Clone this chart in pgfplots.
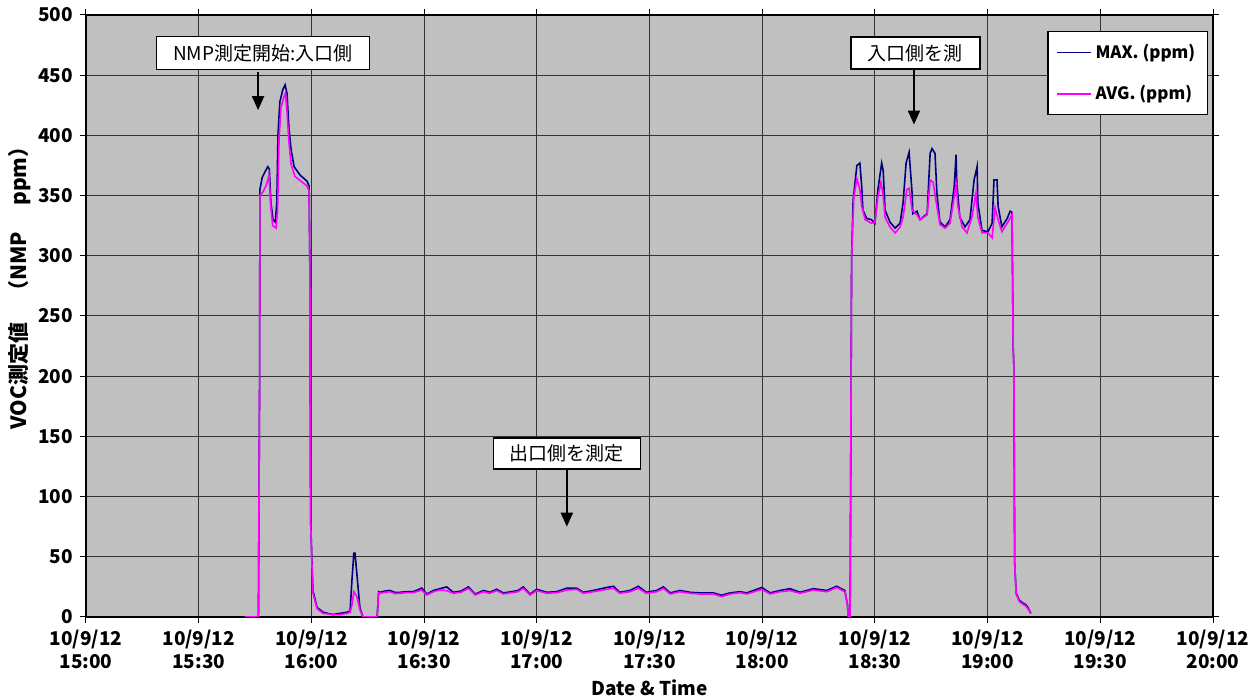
\documentclass[border=0pt]{standalone}
\usepackage{fontspec}
\setmainfont{Noto Sans CJK JP}
\usepackage{pgfplots}
\pgfplotsset{compat=1.18}
\usetikzlibrary{arrows.meta,calc}
\definecolor{plotgray}{RGB}{192,192,192}
\definecolor{maxblue}{RGB}{0,0,128}
\definecolor{avgpink}{RGB}{255,0,255}

% minutes after 15:00, ppm
\pgfplotstableread{
t v
42.3 0
45.9 0
46.2 190
46.3 355
46.9 365
47.7 370
48.4 374
48.8 372
49.2 345
49.8 330
50.4 328
50.8 345
51.1 400
51.6 428
52.4 438
53.0 442
53.5 435
54.0 407
54.6 388
55.4 374
57.0 367
58.8 362
59.4 358
59.6 286
59.8 80
60.1 50
60.4 22
61.5 8
63.1 4
65.7 2
67.6 3
69.5 4
70.3 5
70.8 31
71.3 53
71.6 53
72.1 36
72.9 8
73.7 0
77.5 0
77.9 21
78.3 20.5
79.5 21.5
80.9 22.0
82.2 20.5
83.6 20.5
85.3 21.0
87.1 21.0
89.4 24.0
90.7 19.0
92.5 22.0
94.2 23.5
96.0 25.0
97.8 20.5
99.8 21.5
101.8 25.0
103.6 19.0
105.8 22.0
107.5 20.5
109.3 23.0
111.1 20.0
113.3 21.0
115.0 22.0
116.4 25.0
118.2 19.0
120.0 23.0
122.6 20.5
125.3 21.0
128.0 24.0
130.6 24.0
132.4 20.5
135.0 22.0
138.6 24.5
140.4 25.5
142.1 20.5
144.8 22.0
147.0 25.5
149.2 20.5
151.9 22.0
153.7 25.0
155.5 20.0
158.1 22.0
160.8 20.5
163.4 20.0
167.0 20.0
169.2 18.0
171.4 20.0
174.1 21.0
175.9 20.0
179.9 24.5
182.1 20.0
184.7 22.0
187.4 23.5
190.1 20.5
193.6 23.5
197.2 22.0
199.8 25.5
202.0 22.0
202.7 10
202.9 0
203.4 0
203.6 150
203.8 299
204.2 346
205.2 375
206.0 377
206.5 357
206.8 338
207.8 331
209.1 330
210.0 327
210.8 355
211.8 377
212.2 371
212.7 338
214.0 328
215.4 323
216.7 327
217.5 344
218.3 377
219.1 386
219.9 352
220.1 335
221.2 337
222.0 330
223.9 335
224.7 385
225.2 389
226.0 385
226.5 352
227.3 328
228.7 324
230.0 330
231.1 357
231.6 384
231.8 360
232.6 332
234.0 324
235.3 330
236.4 363
237.2 374
237.4 344
238.5 321
240.1 320
241.2 327
241.7 363
242.5 363
242.8 341
243.8 324
245.2 331
246.0 337
246.5 336
246.8 224
247.0 208
247.2 45
247.6 20
248.4 14
249.2 12
250.2 10
250.7 8
251.5 3
}\maxdata

\pgfplotstableread{
t v
42.3 0
45.9 0
46.2 190
46.3 350
47.1 353
47.9 358
48.4 363
48.7 367
49.2 340
49.7 325
50.6 323
51.0 338
51.4 398
51.9 423
52.7 432
53.1 435
53.5 420
54.0 395
54.6 376
55.6 366
57.2 362
58.8 358
59.4 354
59.6 286
59.8 80
60.1 48
60.4 20
61.5 7
63.1 3
65.7 2
67.6 2
69.5 3
70.3 4
70.8 10
71.3 21
72.1 17
72.9 6
73.7 0
77.5 0
77.9 20
78.3 19.7
79.5 20.5
80.9 21.0
82.2 19.5
83.6 19.7
85.3 20.2
87.1 20.2
89.4 22.4
90.7 18.3
92.5 21.0
94.2 22.4
96.0 21.9
97.8 19.7
99.8 20.5
101.8 23.8
103.6 18.3
105.8 21.0
107.5 19.7
109.3 21.9
111.1 19.1
113.3 20.2
115.0 21.0
116.4 23.8
118.2 18.3
120.0 21.9
122.6 19.7
125.3 20.2
128.0 22.4
130.6 23.0
132.4 19.7
135.0 21.0
138.6 23.0
140.4 23.8
142.1 19.7
144.8 21.0
147.0 23.8
149.2 19.7
151.9 21.0
153.7 23.8
155.5 19.1
158.1 21.0
160.8 19.7
163.4 19.1
167.0 19.1
169.2 16.9
171.4 19.1
174.1 20.2
175.9 19.1
179.9 23.0
182.1 19.1
184.7 21.0
187.4 21.9
190.1 19.7
193.6 22.4
197.2 21.0
199.8 24.5
202.0 21.0
202.7 10
202.9 0
203.4 0
203.6 150
203.8 299
204.4 349
205.2 364
206.0 355
206.5 341
207.4 330
209.1 327
210.0 328
210.8 349
211.6 361
212.2 350
212.7 332
214.0 324
215.4 319
216.7 324
217.5 332
218.5 355
219.1 356
219.9 338
221.2 334
222.0 330
223.9 334
224.7 363
225.5 361
226.5 341
227.3 326
228.7 323
230.0 327
231.1 349
231.6 360
232.1 341
233.2 324
234.5 319
235.8 332
236.9 352
237.4 332
238.5 319
240.1 319
241.2 315
242.0 340
242.8 330
243.8 320
245.2 327
246.5 334
246.8 224
247.0 208
247.2 45
247.6 19
248.4 13
249.2 11
250.2 9
250.7 7
251.5 3
}\avgdata

\begin{document}
\begin{tikzpicture}
\begin{axis}[
  scale only axis,
  width=563.5pt, height=301pt,
  xmin=0, xmax=300, ymin=0, ymax=500,
  xtick={0,30,...,300},
  xticklabels={{10/9/12\\15:00},{10/9/12\\15:30},{10/9/12\\16:00},{10/9/12\\16:30},{10/9/12\\17:00},{10/9/12\\17:30},{10/9/12\\18:00},{10/9/12\\18:30},{10/9/12\\19:00},{10/9/12\\19:30},{10/9/12\\20:00}},
  ytick={0,50,...,500},
  /pgf/number format/assume math mode=true,
  grid=major,
  major grid style={black!80, line width=0.5pt},
  axis background/.style={fill=plotgray},
  axis line style={black, line width=0.6pt},
  tick align=outside,
  major tick length=3pt,
  tick style={black, line width=0.5pt},
  xticklabel style={align=center, font=\bfseries\fontsize{9.5}{11.5}\selectfont},
  yticklabel style={font=\bfseries\fontsize{9.5}{11.5}\selectfont},
  xlabel={Date \& Time},
  ylabel={VOC測定値　（NMP　 ppm）},
  xlabel style={font=\bfseries\fontsize{9.5}{11.5}\selectfont, at={(axis description cs:0.5,-0.118)}, anchor=center},
  ylabel style={font=\bfseries\fontsize{10.5}{12}\selectfont, at={(axis description cs:-0.0586,0.555)}, anchor=center},
  legend style={at={(0.853,0.973)}, anchor=north west, draw=black, fill=white,
    font=\bfseries\fontsize{8.5}{10.5}\selectfont, inner xsep=4pt, inner ysep=4pt, row sep=8pt,
    line width=0.6pt},
  legend cell align=left,
  legend image code/.code={\draw[#1, line width=0.8pt] (0pt,0pt) -- (17pt,0pt);},
]
\addplot[maxblue, line width=0.8pt] table[x=t,y=v] {\maxdata};
\addlegendentry{MAX. (ppm)}
\addplot[avgpink, line width=0.8pt] table[x=t,y=v] {\avgdata};
\addlegendentry{AVG. (ppm)}

\node[draw=black, fill=white, line width=0.6pt, minimum width=106.5pt, minimum height=16.5pt,
  font=\fontsize{9.5}{12}\selectfont] at (axis cs:47.1,468.4) {NMP測定開始:入口側};
\draw[-{Triangle[width=6pt,length=7pt]}, line width=1pt] (axis cs:45.8,453) -- (axis cs:45.8,421);
\node[draw=black, fill=white, line width=0.6pt, minimum width=73.5pt, minimum height=15.5pt,
  font=\fontsize{9.5}{12}\selectfont] at (axis cs:128.0,135.8) {出口側を測定};
\draw[-{Triangle[width=6pt,length=7pt]}, line width=1pt] (axis cs:128.0,122.7) -- (axis cs:128.0,75);
\node[draw=black, fill=white, line width=0.6pt, minimum width=64.5pt, minimum height=16pt,
  font=\fontsize{9.5}{12}\selectfont] at (axis cs:220.8,468.4) {入口側を測};
\draw[-{Triangle[width=6pt,length=7pt]}, line width=1pt] (axis cs:220.4,455) -- (axis cs:220.4,409);
\end{axis}
\pgfresetboundingbox
\path[use as bounding box] ($(current axis.south west)+(-43pt,-40pt)$) rectangle ($(current axis.north east)+(23.5pt,7.5pt)$);
\end{tikzpicture}
\end{document}
